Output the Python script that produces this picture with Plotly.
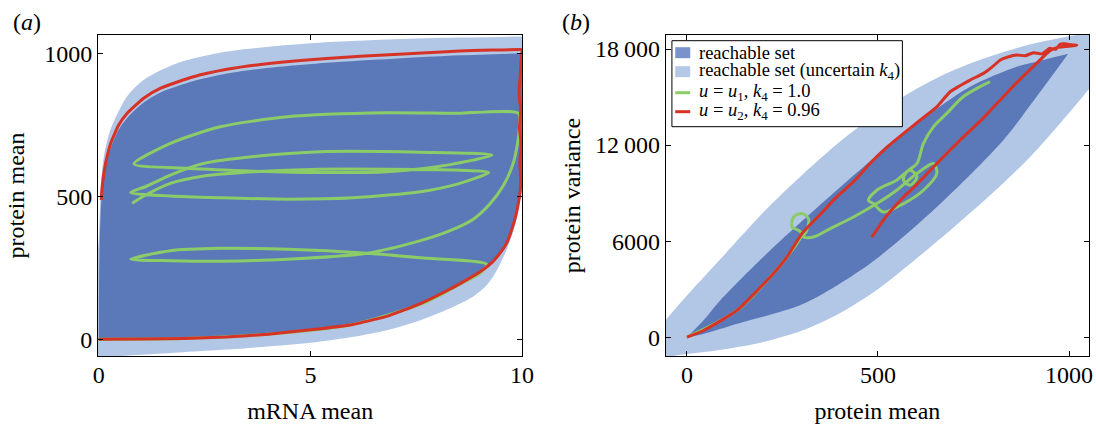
import plotly.graph_objects as go

# ---------------- data : panel (a) ----------------
light_a_low_x = [-0.1, 0.0, 1.0, 2.0, 3.0, 4.0, 5.0, 6.02, 6.81, 7.6, 8.38, 8.8, 9.17, 9.4, 9.6, 9.8, 9.93, 10.0, 10.05]
light_a_low_y = [-70, -65, -54, -45, -36, -25, -12, 9, 32, 67, 114, 145, 190, 240, 300, 380, 460, 540, 650]
light_a_up_x = [-0.1, 0.0, 0.05, 0.12, 0.28, 0.67, 1.06, 1.85, 3.03, 5.0, 6.97, 8.5, 10.05]
light_a_up_y = [200, 350, 540, 640, 735, 850, 907, 965, 1006, 1035, 1049, 1055, 1059]

dark_a_low_x = [0.0, 1.0, 2.0, 3.0, 4.0, 5.0, 6.0, 6.8, 7.6, 8.2, 8.6, 9.0, 9.3, 9.5, 9.65, 9.75, 9.85, 9.96, 10.0]
dark_a_low_y = [0, 1, 3, 8, 18, 33, 52, 80, 125, 168, 200, 235, 270, 305, 340, 380, 430, 520, 600]
dark_a_up_x = [0.0, 0.01, 0.04, 0.08, 0.16, 0.28, 0.47, 0.67, 1.06, 1.46, 2.24, 3.03, 3.82, 5.39, 6.97, 8.54, 10.0]
dark_a_up_y = [0, 250, 430, 520, 600, 668, 733, 774, 828, 863, 903, 929, 946, 967, 981, 993, 1000]

red_a_x = [0.057, 0.08, 0.16, 0.28, 0.47, 0.67, 1.06, 1.46, 2.24, 3.03, 3.82, 5.39, 6.97, 8.54, 9.96,
           10.0, 9.98, 9.96, 9.93, 9.97, 9.94, 9.98, 9.95, 9.97, 9.96,
           9.92, 9.85, 9.75, 9.65, 9.5, 9.3, 9.0, 8.6, 8.2, 7.6, 6.8, 6.0, 5.0, 4.0, 3.0, 2.0, 1.0, 0.0]
red_a_y = [487, 534, 615, 685, 749, 790, 843, 878, 918, 944, 961, 982, 996, 1008, 1013,
           1012, 980, 920, 860, 800, 740, 680, 620, 560, 520,
           480, 430, 380, 340, 305, 270, 235, 200, 168, 125, 80, 52, 33, 18, 8, 3, 1, 0]

green_a_x = [0.0, 2.0, 4.0, 6.0, 7.6, 8.2, 8.6, 9.0, 9.17,
             7.6, 6.34, 4.45, 2.87, 1.69, 0.75,
             1.69, 2.87, 4.45, 6.34, 7.6, 8.3, 8.85, 9.25, 9.55, 9.78, 9.9, 9.94, 9.92,
             8.38, 6.81, 4.45, 2.87, 1.69, 0.83,
             2.09, 3.66, 5.24, 6.81, 7.99, 9.29,
             7.6, 5.24, 3.66, 2.48, 1.69, 1.14, 0.75,
             1.69, 2.87, 4.45, 6.02, 7.6, 8.38, 9.21,
             8.38, 6.81, 5.24, 3.66, 2.48, 1.69, 1.14, 0.79]
green_a_y = [0, 3, 18, 52, 122, 165, 198, 230, 262,
             285, 301, 315, 318, 310, 280,
             275, 273, 280, 301, 345, 380, 420, 475, 535, 610, 690, 750, 790,
             790, 792, 778, 743, 685, 613,
             598, 588, 583, 586, 603, 644,
             654, 656, 639, 615, 574, 536, 513,
             501, 495, 490, 495, 516, 539, 583,
             592, 595, 595, 586, 571, 545, 507, 476]

# ---------------- data : panel (b) ----------------
light_b_low_x = [-80, 0, 100, 200, 300, 400, 500, 600, 700, 800, 900, 1000, 1080]
light_b_low_y = [-1300, -1050, -750, -300, 400, 1500, 3000, 4900, 6900, 9000, 11300, 14000, 16300]
light_b_up_x = [-80, 0, 100, 200, 300, 400, 500, 600, 700, 800, 900, 1000, 1080]
light_b_up_y = [400, 2600, 5200, 7800, 10100, 12200, 14000, 15500, 16700, 17600, 18300, 18800, 19100]

dark_b_low_x = [0, 43, 131, 305, 479, 654, 828, 915, 998]
dark_b_low_y = [0, 200, 838, 2090, 4593, 8134, 12307, 15016, 17700]
dark_b_up_x = [0, 43, 87, 218, 392, 567, 741, 863, 915, 960, 998]
dark_b_up_y = [0, 1045, 2296, 5425, 9179, 12726, 15642, 16900, 17206, 17480, 17700]

red_b_x = [0, 43.5, 131, 218, 261.6, 301, 350, 392, 440, 479, 520, 567, 610, 654, 689, 741, 776, 800, 820,
           840, 863, 885, 907, 930, 950, 965, 977, 990, 1000, 1011, 1020, 1010, 990, 970, 950,
           915, 863, 828, 776, 715, 654, 600, 567, 520, 484]
red_b_y = [0, 419, 1671, 3754, 5006, 6469, 7700, 8760, 9800, 10849, 11800, 12726, 13550, 14390, 15329, 16061,
           16480, 16900, 17313, 17500, 17626, 17580, 17771, 17700, 18044, 17980, 18313, 18330, 18280, 18251,
           18240, 18200, 18150, 18100, 17900, 17100, 15900, 15016, 13700, 12307, 10849, 9500, 8760, 7500, 6257]

green_b_x = [0, 131, 218, 262, 301, 290, 275, 279, 301, 318, 314, 305, 331, 375, 436, 497, 549, 602, 645,
             654, 619, 567, 514, 488, 475, 497, 549, 584, 602, 584, 567, 575, 602, 619, 645, 680, 723, 767, 793]
green_b_y = [0, 1671, 3754, 5006, 6469, 6700, 6882, 7508, 7720, 7407, 6676, 6257, 6257, 6782, 7508, 8346,
             9179, 10220, 10849, 10220, 9179, 8346, 7822, 8346, 8550, 9179, 9805, 10430, 10011, 9492, 9805,
             10324, 10849, 12100, 13139, 13977, 15016, 15642, 15955]

ticks_a_x = [0, 5, 10]
ticks_a_y = [0, 500, 1000]
ticks_b_x = [0, 500, 1000]
ticks_b_y = [0, 6000, 12000, 18000]
ticktext_b_y = ["0", "6000", "12\u2009000", "18\u2009000"]

legend_names = ["reachable set",
                "reachable set (uncertain <i>k</i><sub>4</sub>)",
                "<i>u</i> = <i>u</i><sub>1</sub>, <i>k</i><sub>4</sub> = 1.0",
                "<i>u</i> = <i>u</i><sub>2</sub>, <i>k</i><sub>4</sub> = 0.96"]

# ---------------- style ----------------
DARK = "rgb(91,121,184)"
LIGHT = "rgb(178,198,229)"
RED = "rgb(214,50,38)"
GREEN = "rgb(140,204,104)"
FONT = "Liberation Serif, Times New Roman, serif"
W, H = 1096, 424
ML, MR, MT, MB = 97.5, 7, 35, 68
PW, PH = W - ML - MR, H - MT - MB


def px(x):
    return (x - ML) / PW


def py(y):
    return (H - MB - y) / PH


fig = go.Figure()


def region(lx, ly, ux, uy, color, name, xa, ya):
    fig.add_trace(go.Scatter(x=lx, y=ly, mode="lines", line=dict(width=0, color=color, shape="spline", smoothing=0.8),
                             name=name, showlegend=False, xaxis=xa, yaxis=ya, hoverinfo="skip"))
    fig.add_trace(go.Scatter(x=ux, y=uy, mode="lines", fill="tonexty", fillcolor=color,
                             line=dict(width=0, color=color, shape="spline", smoothing=0.8),
                             name=name, showlegend=False, xaxis=xa, yaxis=ya, hoverinfo="skip"))


def line(xs, ys, color, width, name, xa, ya, smooth=0.8):
    fig.add_trace(go.Scatter(x=xs, y=ys, mode="lines",
                             line=dict(color=color, width=width, shape="spline", smoothing=smooth),
                             name=name, showlegend=False, xaxis=xa, yaxis=ya))


region(light_a_low_x, light_a_low_y, light_a_up_x, light_a_up_y, LIGHT, legend_names[1], "x", "y")
region(dark_a_low_x, dark_a_low_y, dark_a_up_x, dark_a_up_y, DARK, legend_names[0], "x", "y")
line(green_a_x, green_a_y, GREEN, 3, legend_names[2], "x", "y", 0.7)
line(red_a_x, red_a_y, RED, 3, legend_names[3], "x", "y", 0.5)

region(light_b_low_x, light_b_low_y, light_b_up_x, light_b_up_y, LIGHT, legend_names[1], "x2", "y2")
region(dark_b_low_x, dark_b_low_y, dark_b_up_x, dark_b_up_y, DARK, legend_names[0], "x2", "y2")
line(green_b_x, green_b_y, GREEN, 3, legend_names[2], "x2", "y2", 0.9)
line(red_b_x, red_b_y, RED, 3, legend_names[3], "x2", "y2", 0.5)

axis_common = dict(showline=True, linecolor="black", linewidth=1, mirror="ticks", ticks="inside",
                   ticklen=5, tickcolor="black", tickwidth=1, showgrid=False, zeroline=False,
                   automargin=False, tickfont=dict(family=FONT, size=24, color="black"))
xtitle_font = dict(family=FONT, size=24)

fig.update_layout(
    width=W, height=H, margin=dict(l=ML, r=MR, t=MT, b=MB, autoexpand=False),
    paper_bgcolor="white", plot_bgcolor="white", showlegend=False,
    font=dict(family=FONT, color="black"),
    xaxis=dict(domain=[0, px(522)], range=[-0.019, 10.007], tickvals=ticks_a_x, ticklabelstandoff=-3,
               title=dict(text="mRNA mean", font=xtitle_font, standoff=16), **axis_common),
    yaxis=dict(domain=[0, 1], range=[-58.4, 1064], tickvals=ticks_a_y,
               title=dict(text="protein mean", font=xtitle_font, standoff=12), **axis_common),
    xaxis2=dict(domain=[px(665.5), 1], range=[-55.5, 1052.3], tickvals=ticks_b_x, anchor="y2",
                ticklabelstandoff=-3,
                title=dict(text="protein mean", font=xtitle_font, standoff=16), **axis_common),
    yaxis2=dict(domain=[0, 1], range=[-1176, 18876], tickvals=ticks_b_y, ticktext=ticktext_b_y,
                anchor="x2",
                title=dict(text="protein variance", font=xtitle_font, standoff=7), **axis_common),
)

# panel labels
fig.add_annotation(x=px(10), y=py(22), xref="paper", yref="paper", text="(<i>a</i>)", showarrow=False,
                   font=dict(family=FONT, size=24), xanchor="left", yanchor="middle")
fig.add_annotation(x=px(560), y=py(22), xref="paper", yref="paper", text="(<i>b</i>)", showarrow=False,
                   font=dict(family=FONT, size=24), xanchor="left", yanchor="middle")

# legend box (panel b)
fig.add_shape(type="rect", xref="paper", yref="paper", x0=px(671.7), x1=px(902.3), y0=py(126.7), y1=py(40.7),
              line=dict(color="black", width=1), fillcolor="white", layer="above")
rows = [52.7, 71.7, 92.7, 111.7]
swatch = [("rect", "rgb(122,148,203)"), ("rect", "rgb(181,200,230)"), ("line", GREEN), ("line", RED)]
for (kind, col), yc, name in zip(swatch, rows, legend_names):
    if kind == "rect":
        fig.add_shape(type="rect", xref="paper", yref="paper", x0=px(675), x1=px(690),
                      y0=py(yc + 5.5), y1=py(yc - 5.5), line=dict(width=0), fillcolor=col, layer="above")
    else:
        fig.add_shape(type="line", xref="paper", yref="paper", x0=px(675), x1=px(690),
                      y0=py(yc), y1=py(yc), line=dict(color=col, width=3), layer="above")
    fig.add_annotation(x=px(696.5), y=py(yc), xref="paper", yref="paper", text=name, showarrow=False,
                       font=dict(family=FONT, size=18.5, color="black"), xanchor="left", yanchor="middle")

fig.write_html("out.html", config={"displayModeBar": False},
               post_script="document.body.style.margin='0px';document.body.style.padding='0px';")
